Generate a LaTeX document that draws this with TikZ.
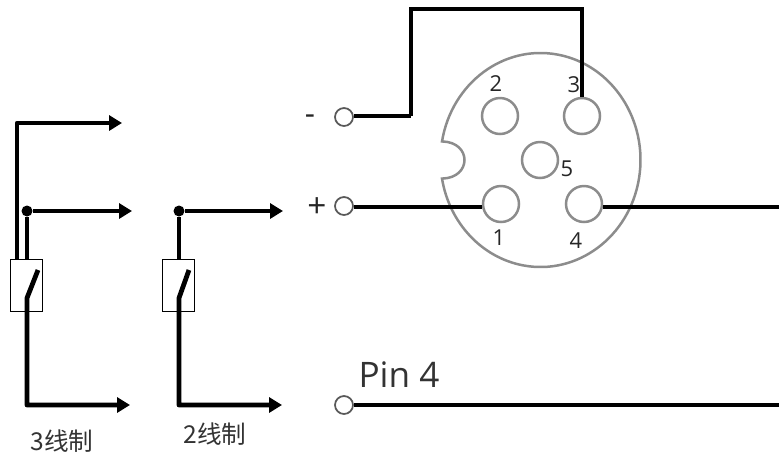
\documentclass[tikz,border=0pt]{standalone}
\usepackage{fontspec}
\setmainfont{Open Sans}
\newfontfamily\cjk{Noto Sans CJK SC}
\usetikzlibrary{arrows.meta}

\begin{document}
\begin{tikzpicture}[x=0.02cm, y=-0.02cm]
    \tikzstyle{wire} = [line width=0.095cm, line join=round]
    \tikzstyle{lead} = [wire, -{Triangle[length=0.26cm, width=0.3cm]}]
    \tikzstyle{thin wire} = [line width=0.075cm, line join=miter]
    \tikzstyle{pinhole} = [draw=black!45, line width=0.05cm, circle, inner sep=0, minimum size=0.72cm]
    \tikzstyle{terminal} = [draw=black!65, line width=0.035cm, circle, fill=white, inner sep=0, minimum size=0.36cm]
    \tikzstyle{switchbox} = [draw=black, line width=0.02cm, inner sep=0, minimum width=0.66cm, minimum height=1.04cm]
    \tikzstyle{joint} = [fill=black, circle, inner sep=0, minimum size=0.22cm]
    \tikzstyle{digit} = [font=\fontsize{12.5}{13}\selectfont, text=black!85, inner sep=0]
    \tikzstyle{caption} = [font=\cjk\fontsize{14}{16}\selectfont, text=black!80, inner sep=0]
    \useasboundingbox (0, 0) rectangle (779, 454);

    % connector body
    \draw[black!45, line width=0.05cm] (540.5, 160) ++(-170:100 and 107) arc[start angle=-170, end angle=170, x radius=100, y radius=107]
        .. controls (472, 178) and (472, 142) .. cycle;

    \node[pinhole] (pin1) at (501, 204) {};
    \node[pinhole] (pin2) at (500, 116) {};
    \node[pinhole] (pin3) at (582, 116) {};
    \node[pinhole] (pin4) at (584, 204) {};
    \node[pinhole] (pin5) at (540, 160) {};
    \node[digit] (num1) at (499, 238) {1};
    \node[digit] (num2) at (496, 84) {2};
    \node[digit] (num3) at (574, 85) {3};
    \node[digit] (num4) at (576, 241) {4};
    \node[digit] (num5) at (567, 169) {5};

    % terminals on the right
    \node[terminal] (minus) at (344, 117) {};
    \node[terminal] (plus) at (344, 206) {};
    \node[terminal] (load) at (344, 405) {};
    \node[digit, font=\fontsize{18}{18}\selectfont] (minuslabel) at (310, 120) {-};
    \node[digit, font=\fontsize{19}{20}\selectfont] (pluslabel) at (317, 208) {+};
    \node[font=\fontsize{20}{22}\selectfont, text=black!80, inner sep=0] (pinlabel) at (399, 375) {Pin 4};

    \coordinate (bendlow) at (411, 116);
    \coordinate (bendhigh) at (411, 9);
    \coordinate (bendpin) at (582, 9);
    \coordinate (plusline) at (344, 207);
    \coordinate (rightplus) at (779, 207);
    \coordinate (rightload) at (779, 405);
    \draw[wire] (minus.east |- bendlow) -- (bendlow);
    \draw[thin wire] (bendlow) -- (bendhigh) -- (bendpin) -- (pin3);
    \draw[wire] (plus.east |- plusline) -- (pin1.west |- plusline);
    \draw[wire] (pin4.east |- plusline) -- (rightplus);
    \draw[wire] (load) -- (rightload);

    % 3 wire switch
    \node[switchbox] (boxa) at (26.5, 285) {};
    \node[joint] (jointa) at (27, 211) {};
    \coordinate (topa) at (17, 123);
    \coordinate (enda) at (122, 123);
    \coordinate (midend) at (132, 211);
    \coordinate (contacta) at (38, 270);
    \coordinate (kneea) at (27, 298);
    \coordinate (lowa) at (27, 405);
    \coordinate (lowenda) at (130, 405);
    \draw[lead] (17, 259) -- (topa) -- (enda);
    \draw[wire] (27, 259) -- (jointa);
    \draw[lead] (jointa) -- (midend);
    \draw[lead] (contacta) -- (kneea) -- (lowa) -- (lowenda);
    \node[caption] (threewire) at (62, 441) {3线制};

    % 2 wire switch
    \node[switchbox] (boxb) at (178.5, 285) {};
    \node[joint] (jointb) at (179, 211) {};
    \coordinate (endb) at (283, 211);
    \coordinate (contactb) at (189, 270);
    \coordinate (kneeb) at (179, 298);
    \coordinate (lowb) at (179, 405);
    \coordinate (lowendb) at (282, 405);
    \draw[wire] (jointb |- boxb.north) -- (jointb);
    \draw[lead] (jointb) -- (endb);
    \draw[lead] (contactb) -- (kneeb) -- (lowb) -- (lowendb);
    \node[caption] (twowire) at (215, 434) {2线制};
\end{tikzpicture}
\end{document}
